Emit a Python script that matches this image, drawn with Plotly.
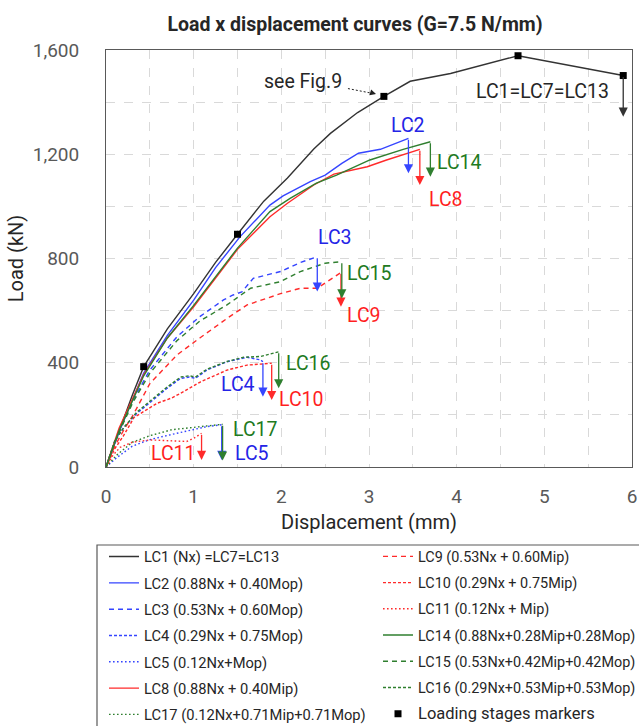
import plotly.graph_objects as go

# ---------------- data ----------------
lc1_x = [0, 0.15, 0.3, 0.43, 0.7, 1.0, 1.25, 1.5, 1.8, 2.07, 2.37, 2.56, 2.87, 3.17, 3.47, 3.93, 4.70, 5.90]
lc1_y = [0, 140, 275, 385, 530, 665, 785, 893, 1020, 1109, 1220, 1280, 1360, 1422, 1480, 1510, 1578, 1502]

lc2_x = [0, 0.15, 0.43, 0.7, 1.0, 1.25, 1.53, 1.87, 2.02, 2.33, 2.50, 2.69, 2.88, 3.13, 3.45]
lc2_y = [0, 135, 360, 505, 640, 765, 884, 1005, 1040, 1095, 1120, 1165, 1204, 1219, 1261]

lc8_x = [0, 0.15, 0.43, 0.7, 1.0, 1.25, 1.5, 1.87, 2.07, 2.37, 2.60, 2.98, 3.20, 3.58]
lc8_y = [0, 150, 355, 495, 615, 725, 835, 960, 1012, 1082, 1124, 1152, 1178, 1219]

lc14_x = [0, 0.15, 0.43, 0.7, 1.0, 1.25, 1.5, 1.87, 2.10, 2.40, 2.63, 3.01, 3.39, 3.70]
lc14_y = [0, 140, 350, 495, 620, 730, 840, 980, 1031, 1089, 1120, 1178, 1219, 1248]

lc3_x = [0, 0.1, 0.2, 0.31, 0.5, 0.81, 1.07, 1.34, 1.45, 1.55, 1.68, 1.99, 2.22, 2.41]
lc3_y = [0, 95, 175, 257, 372, 500, 577, 641, 660, 672, 724, 750, 785, 807]

lc15_x = [0, 0.1, 0.2, 0.31, 0.5, 0.81, 1.07, 1.38, 1.65, 1.99, 2.21, 2.50, 2.69]
lc15_y = [0, 95, 170, 250, 360, 485, 560, 622, 686, 711, 749, 782, 788]

lc9_x = [0, 0.1, 0.2, 0.31, 0.5, 0.81, 1.07, 1.38, 1.61, 1.99, 2.22, 2.41, 2.68]
lc9_y = [0, 80, 140, 200, 320, 430, 495, 570, 622, 665, 686, 686, 746]

lc4_x = [0, 0.1, 0.2, 0.35, 0.51, 0.69, 0.85, 0.95, 1.02, 1.15, 1.38, 1.61, 1.76, 1.79]
lc4_y = [0, 100, 150, 205, 250, 300, 340, 345, 340, 372, 404, 421, 411, 404]

lc16_x = [0, 0.1, 0.2, 0.35, 0.51, 0.69, 0.85, 0.95, 1.02, 1.15, 1.38, 1.57, 1.76, 1.91, 1.97]
lc16_y = [0, 100, 150, 210, 255, 305, 345, 350, 345, 375, 405, 421, 424, 436, 442]

lc10_x = [0, 0.1, 0.2, 0.32, 0.58, 0.75, 0.89, 1.08, 1.38, 1.61, 1.89]
lc10_y = [0, 70, 120, 190, 244, 265, 290, 327, 372, 391, 398]

lc5_x = [0, 0.12, 0.3, 0.5, 0.75, 1.0, 1.15, 1.32]
lc5_y = [0, 35, 80, 105, 125, 145, 155, 162]

lc17_x = [0, 0.12, 0.3, 0.5, 0.75, 1.0, 1.15, 1.33]
lc17_y = [0, 45, 95, 120, 143, 152, 158, 164]

lc11_x = [0, 0.08, 0.16, 0.3, 0.5, 0.7, 0.92, 1.0, 1.09]
lc11_y = [0, 45, 75, 95, 104, 100, 98, 110, 129]

# loading stage markers (on LC1)
stage_x = [0.43, 1.5, 3.17, 4.70, 5.90]
stage_y = [385, 893, 1422, 1578, 1502]

# failure drop arrows: end load -> load at arrow tip
drop_to = {
    "LC1": 1344, "LC2": 1127, "LC8": 1082, "LC14": 1114,
    "LC3": 673, "LC15": 647, "LC9": 615,
    "LC4": 270, "LC16": 302, "LC10": 257,
    "LC5": 27, "LC17": 25, "LC11": 27,
}

# curve labels (x, y)
label_names = ["LC2", "LC14", "LC8", "LC3", "LC15", "LC9", "LC16", "LC4", "LC10", "LC17", "LC5", "LC11", "LC1=LC7=LC13"]
label_x = [3.44, 4.03, 3.88, 2.61, 3.01, 2.94, 2.31, 1.51, 2.23, 1.70, 1.66, 0.77, 4.98]
label_y = [1310, 1170, 1025, 881, 741, 583, 398, 315, 260, 145, 53, 50, 1440]

# "see Fig.9" pointer
note_text = "see Fig.9"
note_x, note_y = 2.25, 1481
pointer_x = [2.76, 3.05]
pointer_y = [1452, 1433]

# ---------------- styles ----------------
BLACK = "#333333"
BLUE = "#3545ff"
RED = "#ff2a2a"
GREEN = "#2f7f2f"
TXT_BLUE = "#2424e6"
TXT_RED = "#ff1f1f"
TXT_GREEN = "#217a21"
DASH = "5px,4px"
DENSE = "3px,2px"
DOT = "1.6px,2.4px"
FONT = "Roboto"

series = [
    # name, legend label, x, y, color, dash, legend
    ("LC1", "LC1 (Nx) =LC7=LC13", lc1_x, lc1_y, BLACK, "solid", "legend"),
    ("LC2", "LC2 (0.88Nx + 0.40Mop)", lc2_x, lc2_y, BLUE, "solid", "legend"),
    ("LC3", "LC3 (0.53Nx + 0.60Mop)", lc3_x, lc3_y, BLUE, DASH, "legend"),
    ("LC4", "LC4 (0.29Nx + 0.75Mop)", lc4_x, lc4_y, BLUE, DENSE, "legend"),
    ("LC5", "LC5 (0.12Nx+Mop)", lc5_x, lc5_y, BLUE, DOT, "legend"),
    ("LC8", "LC8 (0.88Nx + 0.40Mip)", lc8_x, lc8_y, RED, "solid", "legend"),
    ("LC17", "LC17 (0.12Nx+0.71Mip+0.71Mop)", lc17_x, lc17_y, GREEN, DOT, "legend"),
    ("LC9", "LC9 (0.53Nx + 0.60Mip)", lc9_x, lc9_y, RED, DASH, "legend2"),
    ("LC10", "LC10 (0.29Nx + 0.75Mip)", lc10_x, lc10_y, RED, DENSE, "legend2"),
    ("LC11", "LC11 (0.12Nx + Mip)", lc11_x, lc11_y, RED, DOT, "legend2"),
    ("LC14", "LC14 (0.88Nx+0.28Mip+0.28Mop)", lc14_x, lc14_y, GREEN, "solid", "legend2"),
    ("LC15", "LC15 (0.53Nx+0.42Mip+0.42Mop)", lc15_x, lc15_y, GREEN, DASH, "legend2"),
    ("LC16", "LC16 (0.29Nx+0.53Mip+0.53Mop)", lc16_x, lc16_y, GREEN, DENSE, "legend2"),
]
text_colors = {BLACK: "#262626", BLUE: TXT_BLUE, RED: TXT_RED, GREEN: TXT_GREEN}

fig = go.Figure()
for i, (key, name, xs, ys, col, dash, lg) in enumerate(series):
    fig.add_trace(go.Scatter(
        x=xs, y=ys, mode="lines", name=name,
        line=dict(color=col, width=1.4, dash=dash),
        legend=lg, legendgroup=key, legendrank=i + 1,
        hoverinfo="skip",
    ))

# dotted pointer for "see Fig.9"
fig.add_trace(go.Scatter(x=pointer_x, y=pointer_y, mode="lines",
                         line=dict(color="#222222", width=1, dash="2px,2px"),
                         showlegend=False, hoverinfo="skip"))

fig.add_trace(go.Scatter(
    x=stage_x, y=stage_y, mode="markers",
    name="<span style='font-size:16.5px'>Loading stages markers</span>",
    marker=dict(symbol="square", size=7, color="black"),
    legend="legend2", legendgroup="markers", legendrank=100, hoverinfo="skip",
))

annotations = []
# drop arrows
for key, name, xs, ys, col, dash, lg in series:
    annotations.append(dict(
        x=xs[-1], y=drop_to[key], ax=xs[-1], ay=ys[-1],
        xref="x", yref="y", axref="x", ayref="y",
        text="", showarrow=True, arrowhead=2, arrowsize=1.4,
        arrowwidth=1.3, arrowcolor=col, standoff=0,
    ))
# pointer head
annotations.append(dict(
    x=pointer_x[-1] + 0.03, y=pointer_y[-1] - 2, ax=pointer_x[-1] - 0.02, ay=pointer_y[-1] + 3,
    xref="x", yref="y", axref="x", ayref="y",
    text="", showarrow=True, arrowhead=2, arrowsize=1.2, arrowwidth=1,
    arrowcolor="#222222", standoff=0,
))
# labels
color_of = {s[0]: text_colors[s[4]] for s in series}
for nm, lx, ly in zip(label_names, label_x, label_y):
    annotations.append(dict(
        x=lx, y=ly, xref="x", yref="y", text=nm, showarrow=False,
        font=dict(family=FONT, size=19.5, color=color_of.get(nm, "#262626")),
        xanchor="center", yanchor="middle",
    ))
annotations.append(dict(
    x=note_x, y=note_y, xref="x", yref="y", text=note_text, showarrow=False,
    font=dict(family=FONT, size=19.5, color="#262626"), xanchor="center", yanchor="middle",
))

# legend frame
L, R, T, B = 106, 632, 50, 467
def px_to_paper_x(px):
    return (px - L) / (R - L)
def px_to_paper_y(py):
    return (B - py) / (B - T)

shapes = [dict(type="rect", xref="paper", yref="paper",
               x0=px_to_paper_x(97), x1=px_to_paper_x(660),
               y0=px_to_paper_y(745), y1=px_to_paper_y(545),
               line=dict(color="#595959", width=1.2), fillcolor="rgba(0,0,0,0)")]

grid = dict(showgrid=True, gridcolor="#d9d9d9", griddash="dash", gridwidth=1)

fig.update_layout(
    width=639, height=726,
    margin=dict(l=L, r=639 - R, t=T, b=726 - B, autoexpand=False),
    paper_bgcolor="white", plot_bgcolor="white",
    font=dict(family=FONT, color="#262626"),
    title=dict(text="<b>Load x displacement curves (G=7.5 N/mm)</b>",
               x=355 / 639, xanchor="center", xref="container",
               y=1 - 24 / 726, yanchor="middle", yref="container",
               font=dict(family=FONT, size=19.5, color="#262626")),
    xaxis=dict(range=[0, 6], dtick=1, tick0=0, **grid,
               minor=dict(dtick=0.5, **grid),
               showline=True, mirror=True, linecolor="#595959", linewidth=1,
               zeroline=False, ticks="", ticklabelstandoff=12,
               tickfont=dict(family=FONT, size=19, color="#595959"),
               title=dict(text="Displacement (mm)", standoff=8,
                          font=dict(family=FONT, size=20, color="#262626"))),
    yaxis=dict(range=[0, 1600], dtick=400, tick0=0, tickformat=",", **grid,
               minor=dict(dtick=200, **grid),
               showline=True, mirror=True, linecolor="#595959", linewidth=1,
               zeroline=False, ticks="", ticklabelstandoff=22,
               tickfont=dict(family=FONT, size=19, color="#595959"),
               title=dict(text="Load (kN)", standoff=3,
                          font=dict(family=FONT, size=20, color="#262626"))),
    legend=dict(x=px_to_paper_x(104), y=px_to_paper_y(540.5), xanchor="left", yanchor="top",
                traceorder="grouped", tracegroupgap=4.2, bgcolor="rgba(0,0,0,0)",
                font=dict(family=FONT, size=14.7, color="#262626"), itemwidth=30),
    legend2=dict(x=px_to_paper_x(378), y=px_to_paper_y(540.5), xanchor="left", yanchor="top",
                 traceorder="grouped", tracegroupgap=4.5, bgcolor="rgba(0,0,0,0)",
                 font=dict(family=FONT, size=14.4, color="#262626"), itemwidth=30),
    annotations=annotations,
    shapes=shapes,
    showlegend=True,
)

fig.write_html("out.html")
